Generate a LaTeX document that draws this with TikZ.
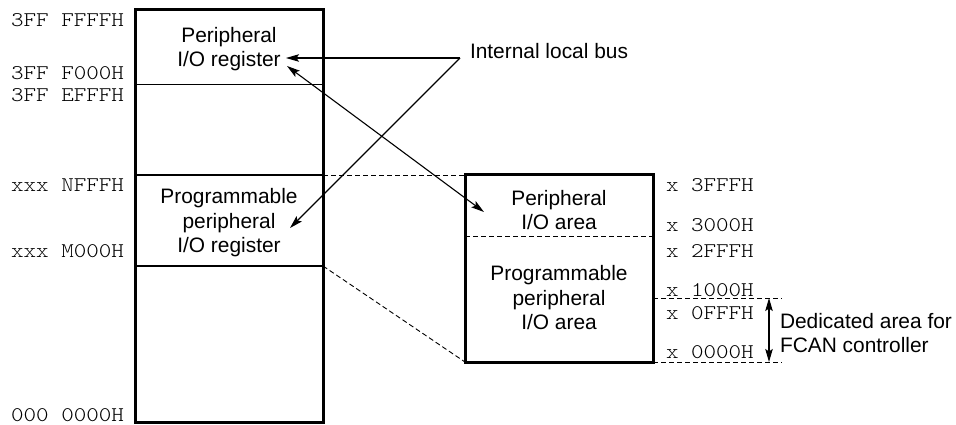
\documentclass[tikz,border=0pt]{standalone}
\usepackage{fontspec}
\setmainfont{Liberation Sans}
\newfontfamily\addrfont[FakeStretch=1.143]{Latin Modern Mono Light}
\usetikzlibrary{arrows.meta}
\begin{document}
\begin{tikzpicture}[x=1pt,y=-1pt,
  every node/.style={inner sep=0pt,outer sep=0pt},
  lbl/.style={font=\fontsize{20.9}{25}\selectfont,anchor=base},
  addr/.style={font=\fontsize{20.9}{25}\selectfont\addrfont},
  membox/.style={draw,line width=3pt,rectangle},
  divider/.style={line width=1.1pt},
  dashline/.style={line width=0.9pt,dash pattern=on 5pt off 3pt},
  tip/.tip={Stealth[length=13pt,width=7.5pt,inset=2.5pt]},
  arr/.style={line width=1.1pt,-tip},
  dblarr/.style={line width=1.1pt,tip-tip}]
\useasboundingbox (0,0) rectangle (956,425);

% whole address space
\node[membox,minimum width=188pt,minimum height=412pt] (mem) at (229,216) {};
\coordinate (m1l) at (135,84.5);  \coordinate (m1r) at (323,84.5);
\coordinate (m2l) at (135,175);   \coordinate (m2r) at (323,175);
\coordinate (m3l) at (135,266);   \coordinate (m3r) at (323,266);
\draw[divider] (m1l) -- (m1r);
\draw[divider] (m2l) -- (m2r);
\draw[divider] (m3l) -- (m3r);

% expanded programmable I/O area
\node[membox,minimum width=188pt,minimum height=187pt] (io) at (559,268.5) {};
\coordinate (iodl) at (465,236); \coordinate (iodr) at (653,236);
\draw[dashline] (iodl) -- (iodr);

% projection lines
\draw[dashline] (m2r) -- (io.north west);
\draw[dashline] (m3r) -- (io.south west);
\coordinate (d1l) at (653,298); \coordinate (d1r) at (782,298);
\coordinate (d2l) at (653,362); \coordinate (d2r) at (782,362);
\draw[dashline] (d1l) -- (d1r);
\draw[dashline] (d2l) -- (d2r);

% left addresses
\node[addr,anchor=base east] (a1) at (124,27) {3FF FFFFH};
\node[addr,anchor=base east] (a2) at (124,80) {3FF F000H};
\node[addr,anchor=base east] (a3) at (124,102) {3FF EFFFH};
\node[addr,anchor=base east] (a4) at (124,191) {xxx NFFFH};
\node[addr,anchor=base east] (a5) at (124,257) {xxx M000H};
\node[addr,anchor=base east] (a6) at (124,421) {000 0000H};

% right addresses
\node[addr,anchor=base west] (b1) at (666,192) {x 3FFFH};
\node[addr,anchor=base west] (b2) at (666,231) {x 3000H};
\node[addr,anchor=base west] (b3) at (666,257) {x 2FFFH};
\node[addr,anchor=base west] (b4) at (666,296) {x 1000H};
\node[addr,anchor=base west] (b5) at (666,319) {x 0FFFH};
\node[addr,anchor=base west] (b6) at (666,358) {x 0000H};

% region names
\node[lbl] (pr1) at (229,43) {Peripheral};
\node[lbl] (pr2) at (229,67) {I/O register};
\node[lbl] (pp1) at (229,203) {Programmable};
\node[lbl] (pp2) at (229,228) {peripheral};
\node[lbl] (pp3) at (229,252) {I/O register};
\node[lbl] (ia1) at (559,205.5) {Peripheral};
\node[lbl] (ia2) at (559,229) {I/O area};
\node[lbl] (ip1) at (559,280) {Programmable};
\node[lbl] (ip2) at (559,305) {peripheral};
\node[lbl] (ip3) at (559,329) {I/O area};
\node[lbl,anchor=base west] (bus) at (470,58.3) {Internal local bus};
\node[lbl,anchor=base west] (fc1) at (780,328) {Dedicated area for};
\node[lbl,anchor=base west] (fc2) at (780,352) {FCAN controller};

% bus connections
\coordinate (busjoin) at (460,58);
\coordinate (prtip) at (286,58);
\coordinate (pptip) at (290,228);
\coordinate (mapa) at (287,66);
\coordinate (mapb) at (484,212);
\draw[arr] (busjoin) -- (prtip);
\draw[arr] (busjoin) -- (pptip);
\draw[dblarr] (mapa) -- (mapb);

% FCAN range
\coordinate (fca) at (769,298);
\coordinate (fcb) at (769,362);
\draw[dblarr] (fca) -- (fcb);
\end{tikzpicture}
\end{document}
